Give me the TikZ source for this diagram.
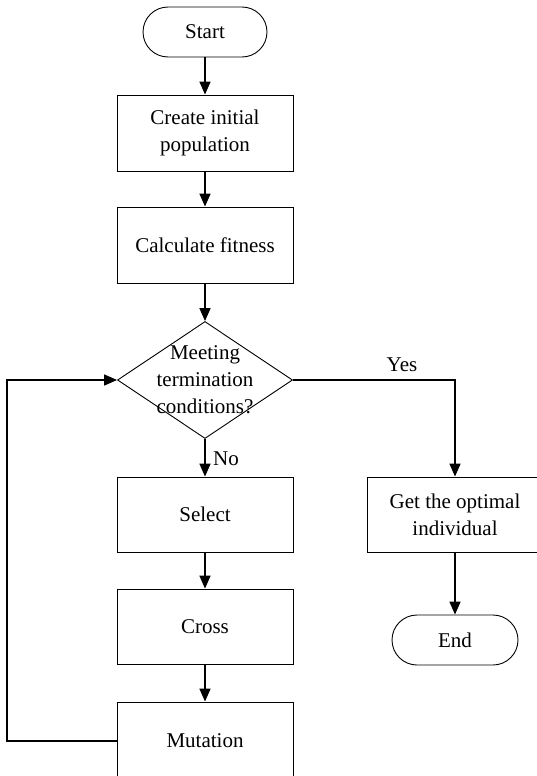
\documentclass[tikz,border=0pt]{standalone}
\usepackage{fontspec}
\setmainfont{Liberation Serif}
\usetikzlibrary{arrows.meta,shapes.geometric}
\begin{document}
\begin{tikzpicture}[x=1pt,y=-1pt,
  every node/.style={font=\fontsize{21}{27}\selectfont},
  proc/.style={draw, line width=0.9pt, minimum width=176pt, minimum height=76pt, align=center, inner sep=0pt},
  term/.style={draw, line width=0.9pt, rounded corners=25pt, minimum height=50pt, inner sep=0pt},
  flow/.style={line width=1.6pt, -{Triangle[length=13pt,width=11pt]}},
  lbl/.style={inner sep=0pt}]
\useasboundingbox (0,0) rectangle (537,776);
\clip (0,0) rectangle (537,776);
\node (start) [term, minimum width=124pt] at (205,32) {Start};
\node (create) [proc] at (205,133) {Create initial\\population};
\node (fit) [proc] at (205,245) {Calculate fitness};
\node (dec) [diamond, draw, line width=0.9pt, minimum width=175pt, minimum height=117pt, inner sep=0pt] at (205,380) {};
\node (dectext) [align=center, inner sep=0pt] at (205,380) {Meeting\\termination\\conditions?};
\node (sel) [proc, minimum height=75pt] at (205,514.5) {Select};
\node (cross) [proc, minimum height=75pt] at (205,626.5) {Cross};
\node (mut) [proc, minimum height=78pt] at (205,741) {Mutation};
\node (opt) [proc, minimum height=75pt] at (455,514.5) {Get the optimal\\individual};
\node (end) [term, minimum width=126pt] at (455,640) {End};
\coordinate (lp) at (7,741);
\draw[flow] (start) -- (create);
\draw[flow] (create) -- (fit);
\draw[flow] (fit) -- (dec.north);
\draw[flow] (dec.south) -- (sel);
\draw[flow] (sel) -- (cross);
\draw[flow] (cross) -- (mut);
\draw[flow] (mut.west) -- (lp) |- (dec.west);
\draw[flow] (dec.east) -| (opt.north);
\draw[flow] (opt) -- (end);
\node (yes) [lbl] at (402,365) {Yes};
\node (no) [lbl] at (226,459) {No};
\end{tikzpicture}
\end{document}
